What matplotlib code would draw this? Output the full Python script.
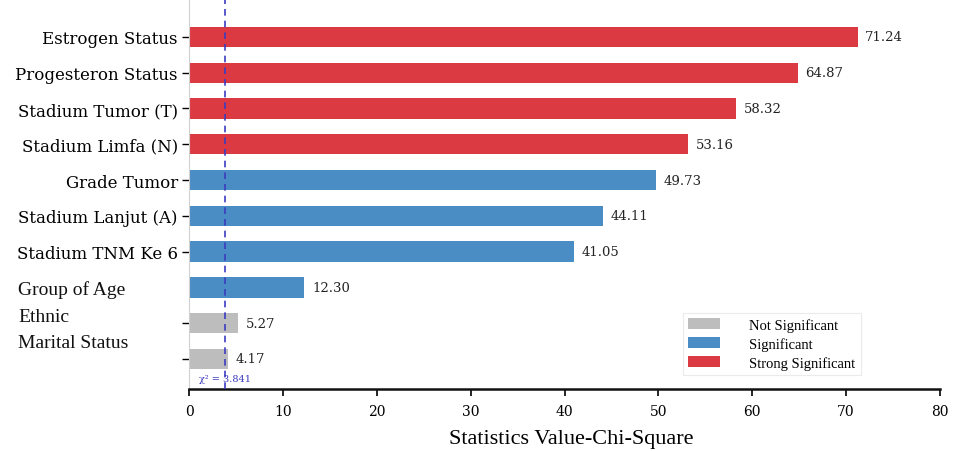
import matplotlib
matplotlib.use("Agg")
import matplotlib.pyplot as plt
from matplotlib.patches import Patch

categories = ["Estrogen Status", "Progesteron Status", "Stadium Tumor (T)",
              "Stadium Limfa (N)", "Grade Tumor", "Stadium Lanjut (A)",
              "Stadium TNM Ke 6", "Group of Age", "Ethnic", "Marital Status"]
chi_square = [71.24, 64.87, 58.32, 53.16, 49.73, 44.11, 41.05, 12.30, 5.27, 4.17]
groups = ["strong", "strong", "strong", "strong", "sig", "sig", "sig", "sig", "not", "not"]
critical_value = 3.841
x_ticks = [0, 10, 20, 30, 40, 50, 60, 70, 80]

palette = {"strong": "#dc3a42", "sig": "#4a8cc4", "not": "#bdbdbd"}
legend_names = [("not", "Not Significant"), ("sig", "Significant"), ("strong", "Strong Significant")]

fig = plt.figure(figsize=(9.6, 4.52), dpi=100)
ax = fig.add_axes([189 / 960, 1 - 390 / 452, 751 / 960, 390 / 452])

ypos = list(range(len(categories)))
ax.barh(ypos, chi_square, height=0.57, color=[palette[g] for g in groups], zorder=2)

for y, v in zip(ypos, chi_square):
    ax.text(v + 0.8, y, f"{v:.2f}", va="center", ha="left",
            fontsize=9.5, family="DejaVu Serif", color="#222222")

ax.axvline(critical_value, color="#3c3cc0", linestyle=(0, (4, 3)), linewidth=1.2, zorder=3)
ax.text(critical_value, 9.55, "χ² = 3.841", color="#3c3cc0", fontsize=7,
        ha="center", va="center", family="DejaVu Serif")

ax.set_xlim(0, 80)
ax.set_ylim(9.84, -1.06)
ax.set_xticks(x_ticks)
ax.set_xticklabels([str(t) for t in x_ticks], family="DejaVu Serif", fontsize=10)
ax.set_yticks(ypos)
ax.set_yticklabels(categories[:7] + ["", "", ""], family="DejaVu Serif", fontsize=12)
ax.tick_params(axis="y", length=5, width=1, pad=3)
ax.tick_params(axis="x", length=5, width=1.2, pad=6)
ax.yaxis.get_major_ticks()[7].tick1line.set_visible(False)

for side in ("top", "right"):
    ax.spines[side].set_visible(False)
ax.spines["left"].set_color("#d0d0d0")
ax.spines["left"].set_linewidth(0.8)
ax.spines["bottom"].set_linewidth(1.8)
ax.spines["bottom"].set_color("#111111")

# Row names for the demographic variables
for name, ypix in [("Group of Age", 290), ("Ethnic", 317), ("Marital Status", 344)]:
    fig.text(18 / 960, 1 - ypix / 452, name, family="Liberation Serif",
             fontsize=14, va="center", ha="left", color="#111111")

fig.text(571 / 960, 1 - 440 / 452, "Statistics Value-Chi-Square",
         family="Liberation Serif", fontsize=16, ha="center", va="center")

handles = [Patch(facecolor=palette[k], edgecolor="none") for k, _ in legend_names]
leg = fig.legend(handles, [n for _, n in legend_names], loc="upper left",
                 bbox_to_anchor=(683 / 960, 1 - 314 / 452), frameon=True, fancybox=False,
                 prop={"family": "Liberation Serif", "size": 10.5},
                 handlelength=2.2, handleheight=0.75, labelspacing=0.35,
                 handletextpad=2.0, borderpad=0.35, borderaxespad=0)
leg.get_frame().set_edgecolor("#e6e6e6")
leg.get_frame().set_linewidth(0.8)

fig.savefig("out.png", dpi=100)
